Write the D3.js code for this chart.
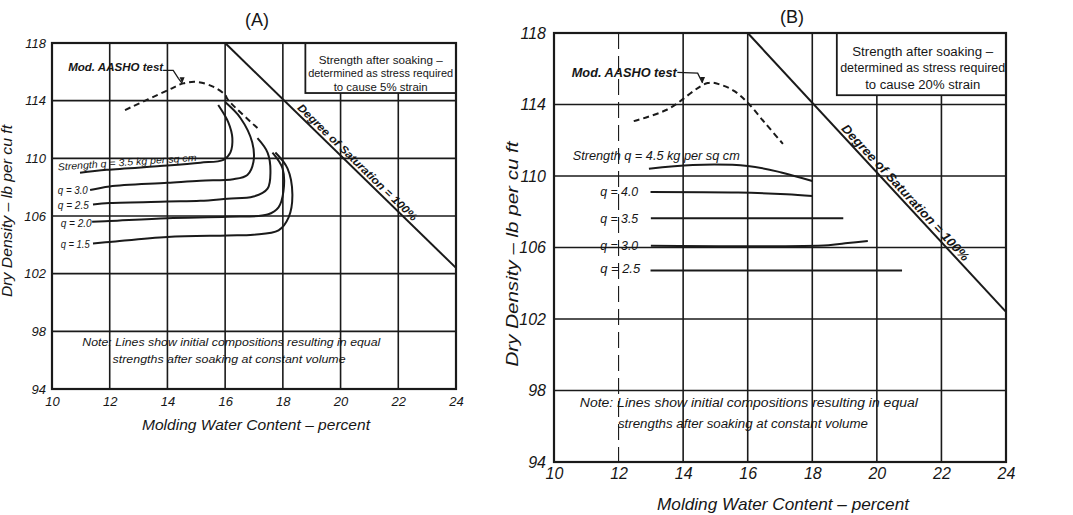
<!DOCTYPE html>
<html>
<head>
<meta charset="utf-8">
<script src="https://cdn.jsdelivr.net/npm/d3@7"></script>
<style>
  html, body { margin: 0; padding: 0; background: #fff; }
  svg { display: block; }
  text { font-family: "Liberation Sans", Arial, sans-serif; font-style: italic; fill: #161616; }
</style>
</head>
<body>
<svg id="chart" width="1073" height="515"></svg>
<script>
// ---- shared axis values ----
const xTicks = [10, 12, 14, 16, 18, 20, 22, 24];
const yTicks = [94, 98, 102, 106, 110, 114, 118];
const xTitle = "Molding Water Content \u2013 percent";
const yTitle = "Dry Density \u2013 lb per cu ft";

// 100% saturation line (both panels)
const saturation = [[16, 118], [24, 102.4]];
const saturationLabel = "Degree of Saturation = 100%";

// ---- panel A: 5% strain criterion ----
const aashoA = [[12.53, 113.35], [14.03, 114.74], [14.55, 115.2], [15.03, 115.3], [15.6, 114.95],
                [16.0, 114.4], [16.1, 114.05], [17.12, 112.1]];
const strengthLabelsA = ["Strength q = 3.5 kg per sq cm", "q = 3.0", "q = 2.5", "q = 2.0", "q = 1.5"];
const q35A = [[10.97, 109.0], [11.9, 109.2], [14.0, 109.5], [15.14, 109.7], [15.94, 109.9],
              [16.18, 110.4], [16.25, 111.4], [16.11, 112.5], [15.76, 113.7]];
const q30A = [[11.32, 107.8], [12.0, 108.05], [14.0, 108.3], [15.14, 108.45], [16.28, 108.55],
              [16.77, 108.85], [16.98, 109.75], [16.94, 111.1], [16.53, 112.8], [16.0, 113.9]];
const q25A = [[11.42, 106.8], [12.0, 106.9], [14.0, 107.0], [15.14, 107.05], [16.08, 107.2],
              [16.98, 107.35], [17.47, 107.9], [17.57, 109.05], [17.47, 110.4], [17.12, 111.4]];
const q20A = [[11.39, 105.6], [12.0, 105.65], [14.0, 105.85], [16.08, 105.95], [17.47, 106.1],
              [17.85, 106.6], [18.02, 107.7], [17.99, 109.3], [17.64, 110.4]];
const q15A = [[11.42, 104.1], [12.0, 104.2], [14.0, 104.55], [16.08, 104.65], [16.98, 104.7],
              [17.85, 105.0], [18.2, 105.9], [18.33, 107.5], [18.16, 109.3], [17.74, 110.4]];
const boxLinesA = ["Strength after soaking \u2013", "determined as stress required", "to cause 5% strain"];
const noteLines = ["Note: Lines show initial compositions resulting in equal",
                   "strengths after soaking at constant volume"];

// ---- panel B: 20% strain criterion ----
const aashoB = [[12.47, 113.07], [13.51, 113.72], [14.76, 115.2], [15.17, 115.1], [15.59, 114.75],
                [16.0, 114.1], [16.52, 113.0], [17.09, 111.8]];
const strengthLabelsB = ["Strength q = 4.5 kg per sq cm", "q = 4.0", "q = 3.5", "q = 3.0", "q = 2.5"];
const q45B = [[12.94, 110.41], [14.3, 110.62], [16.0, 110.56], [17.04, 110.2], [18.0, 109.72]];
const q40B = [[12.99, 109.11], [15.7, 109.08], [17.2, 108.98], [18.0, 108.88]];
const q35B = [[13.0, 107.64], [18.96, 107.64]];
const q30B = [[13.0, 106.1], [18.5, 106.13], [19.1, 106.25], [19.72, 106.37]];
const q25B = [[12.99, 104.72], [20.78, 104.72]];
const boxLinesB = ["Strength after soaking \u2013", "determined as stress required", "to cause 20% strain"];

const svg = d3.select("#chart");
const ink = "#1a1a1a";

// text helper: fixed run length keeps the hand-lettered spacing
function fit(sel, len) {
  if (len) sel.attr("textLength", len).attr("lengthAdjust", "spacingAndGlyphs");
  return sel;
}

function drawPanel(p) {
  const x = d3.scaleLinear().domain([10, 24]).range([p.left, p.right]);
  const y = d3.scaleLinear().domain([94, 118]).range([p.bottom, p.top]);
  const g = svg.append("g");
  const line = d3.line().x(d => x(d[0])).y(d => y(d[1])).curve(d3.curveCatmullRom.alpha(0.5));

  // grid
  g.append("g").selectAll("line").data(xTicks.slice(1, -1)).join("line")
    .attr("x1", d => x(d)).attr("x2", d => x(d))
    .attr("y1", p.top).attr("y2", p.bottom)
    .attr("stroke", ink)
    .attr("stroke-width", d => (p.dashedX.includes(d) ? 1.1 : p.gridW))
    .attr("stroke-dasharray", d => (p.dashedX.includes(d) ? "16,7" : null));
  g.append("g").selectAll("line").data(yTicks.slice(1, -1)).join("line")
    .attr("x1", p.left).attr("x2", p.right)
    .attr("y1", d => y(d)).attr("y2", d => y(d))
    .attr("stroke", ink).attr("stroke-width", p.gridW);

  // legend box (white, covers grid)
  const bx = x(p.boxX), by = y(p.boxY);
  g.append("rect").attr("x", bx).attr("y", p.top)
    .attr("width", p.right - bx).attr("height", by - p.top)
    .attr("fill", "#fff").attr("stroke", ink).attr("stroke-width", 1.8);
  g.append("g").selectAll("text").data(p.boxLines).join("text")
    .attr("x", x(p.boxTextX)).attr("y", (d, i) => p.boxTextY[i])
    .attr("text-anchor", "middle").style("font-style", "normal")
    .style("font-size", p.boxFont + "px")
    .attr("textLength", (d, i) => p.boxLen[i]).attr("lengthAdjust", "spacingAndGlyphs")
    .text(d => d);

  // frame
  g.append("rect").attr("x", p.left).attr("y", p.top)
    .attr("width", p.right - p.left).attr("height", p.bottom - p.top)
    .attr("fill", "none").attr("stroke", ink).attr("stroke-width", 2.2);

  // axes (tick labels only, as on the drawing)
  const xAxis = d3.axisBottom(x).tickValues(xTicks).tickSize(0).tickPadding(p.xPad).tickFormat(d3.format("d"));
  const yAxis = d3.axisLeft(y).tickValues(yTicks).tickSize(0).tickPadding(p.yPad).tickFormat(d3.format("d"));
  const gx = g.append("g").attr("transform", `translate(0,${p.bottom})`).call(xAxis);
  const gy = g.append("g").attr("transform", `translate(${p.left},0)`).call(yAxis);
  [gx, gy].forEach(a => {
    a.select(".domain").remove();
    a.attr("font-family", null).attr("font-size", null);
    a.selectAll("text").style("font-size", p.tickFont + "px").style("font-style", "italic").attr("fill", ink);
  });

  // axis titles
  fit(g.append("text").attr("x", p.xTitleX).attr("y", p.xTitleY)
    .attr("text-anchor", "middle").style("font-size", p.titleFont + "px"), p.xTitleLen).text(xTitle);
  fit(g.append("text").attr("transform", `translate(${p.yTitleX},${p.yTitleY}) rotate(-90)`)
    .attr("text-anchor", "middle").style("font-size", p.titleFont + "px"), p.yTitleLen).text(yTitle);

  // panel title
  g.append("text").attr("x", p.headX).attr("y", p.headY).attr("text-anchor", "middle")
    .style("font-style", "normal").style("font-size", "18px").text(p.head);

  // 100% saturation line and its label
  g.append("path").attr("d", d3.line().x(d => x(d[0])).y(d => y(d[1]))(saturation))
    .attr("fill", "none").attr("stroke", ink).attr("stroke-width", 2);
  const sx0 = x(saturation[0][0]), sy0 = y(saturation[0][1]);
  const sx1 = x(saturation[1][0]), sy1 = y(saturation[1][1]);
  const ang = Math.atan2(sy1 - sy0, sx1 - sx0) * 180 / Math.PI;
  const t = (p.satAt - saturation[0][0]) / (saturation[1][0] - saturation[0][0]);
  const lx = sx0 + t * (sx1 - sx0), ly = sy0 + t * (sy1 - sy0);
  fit(g.append("text").attr("transform", `translate(${lx},${ly}) rotate(${ang})`)
    .attr("dy", -3).attr("text-anchor", "middle")
    .style("font-size", p.satFont + "px").style("font-weight", "bold"), p.satLen).text(saturationLabel);

  // Mod. AASHO compaction curve (dashed)
  g.append("path").attr("d", line(p.aasho)).attr("fill", "none")
    .attr("stroke", ink).attr("stroke-width", 2).attr("stroke-dasharray", "6,4");
  fit(g.append("text").attr("x", x(p.aashoLabel[0])).attr("y", y(p.aashoLabel[1]))
    .attr("dy", "0.35em").style("font-size", p.labelFont + "px").style("font-weight", "bold"), p.aashoLen)
    .text("Mod. AASHO test");
  g.append("path").attr("d", d3.line().x(d => x(d[0])).y(d => y(d[1]))(p.leader))
    .attr("fill", "none").attr("stroke", ink).attr("stroke-width", 1.3);
  const lp = p.leader[p.leader.length - 1];
  g.append("path")
    .attr("d", `M${x(lp[0]) - 2.5},${y(lp[1]) - 6} L${x(lp[0]) + 2.5},${y(lp[1]) - 6} L${x(lp[0])},${y(lp[1])} Z`)
    .attr("fill", ink);

  // equal-strength lines
  g.append("g").selectAll("path").data(p.curves).join("path")
    .attr("d", d => line(d)).attr("fill", "none").attr("stroke", ink).attr("stroke-width", 2);
  g.append("g").selectAll("text").data(p.curveLabels).join("text")
    .attr("transform", (d, i) => `translate(${x(p.labelPos[i][0])},${y(p.labelPos[i][1])}) rotate(${p.labelRot[i]})`)
    .attr("dy", "0.35em").style("font-size", p.labelFont + "px")
    .attr("textLength", (d, i) => p.labelLen[i]).attr("lengthAdjust", "spacingAndGlyphs")
    .text(d => d);

  // note
  g.append("g").selectAll("text").data(noteLines).join("text")
    .attr("x", (d, i) => x(p.noteX[i])).attr("y", (d, i) => y(p.noteY[i]))
    .style("font-size", p.noteFont + "px")
    .attr("textLength", (d, i) => p.noteLen[i]).attr("lengthAdjust", "spacingAndGlyphs")
    .text(d => d);
}

drawPanel({
  head: "(A)", headX: 257, headY: 26,
  left: 52, right: 456, top: 43, bottom: 389,
  gridW: 1.6, dashedX: [],
  tickFont: 13, xPad: 8, yPad: 6,
  titleFont: 14, xTitleX: 256, xTitleY: 430, xTitleLen: 228, yTitleX: 12, yTitleY: 211, yTitleLen: 172,
  boxX: 18.78, boxY: 114.53, boxTextX: 21.39, boxTextY: [64, 77, 91], boxFont: 10.5,
  boxLen: [124, 145, 94], boxLines: boxLinesA,
  satAt: 20.42, satFont: 11, satLen: 162,
  aasho: aashoA, aashoLabel: [10.56, 116.27], aashoLen: 95,
  leader: [[13.85, 116.1], [14.2, 116.1], [14.38, 115.55], [14.51, 115.2]],
  curves: [q35A, q30A, q25A, q20A, q15A],
  curveLabels: strengthLabelsA,
  labelPos: [[10.2, 109.4], [10.2, 107.8], [10.2, 106.7], [10.3, 105.5], [10.3, 104.0]],
  labelRot: [-4, 0, 0, 0, 0],
  labelLen: [139, 30, 31, 31, 29],
  labelFont: 10,
  noteX: [11.05, 12.1], noteY: [97.0, 95.8], noteFont: 11, noteLen: [298, 233]
});

drawPanel({
  head: "(B)", headX: 792, headY: 23,
  left: 554, right: 1006, top: 33, bottom: 462,
  gridW: 1.6, dashedX: [12],
  tickFont: 16, xPad: 6, yPad: 8,
  titleFont: 16.5, xTitleX: 783, xTitleY: 510, xTitleLen: 252, yTitleX: 518, yTitleY: 254, yTitleLen: 225,
  boxX: 18.76, boxY: 114.52, boxTextX: 21.42, boxTextY: [56, 72, 89], boxFont: 12,
  boxLen: [141, 165, 115], boxLines: boxLinesB,
  satAt: 20.72, satFont: 12.5, satLen: 181,
  aasho: aashoB, aashoLabel: [10.55, 115.8], aashoLen: 105,
  leader: [[13.82, 115.8], [14.45, 115.75], [14.6, 115.2]],
  curves: [q45B, q40B, q35B, q30B, q25B],
  curveLabels: strengthLabelsB,
  labelPos: [[10.58, 111.15], [11.43, 109.1], [11.43, 107.6], [11.43, 106.1], [11.43, 104.8]],
  labelRot: [0, 0, 0, 0, 0],
  labelLen: [167, 38, 38, 38, 40],
  labelFont: 12.5,
  noteX: [10.8, 11.98], noteY: [97.05, 95.9], noteFont: 12.5, noteLen: [338, 250]
});
</script>
</body>
</html>
